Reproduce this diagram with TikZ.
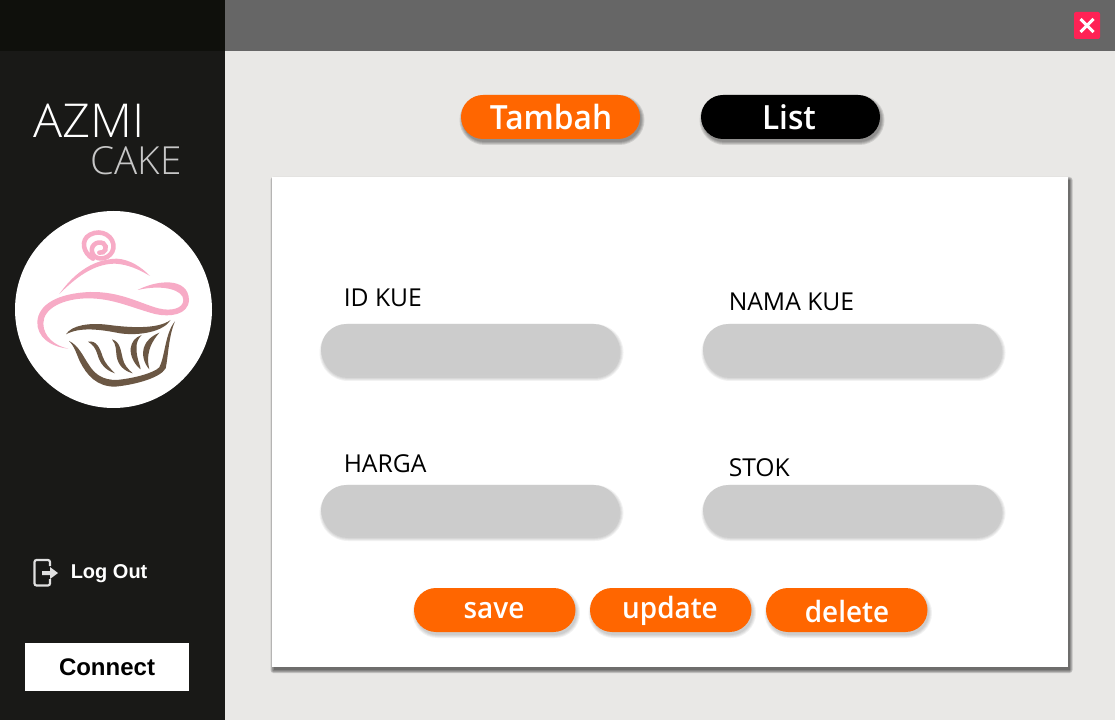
\documentclass[tikz,border=0pt]{standalone}
\usepackage{fontspec}
\usepackage{tikz}
\setmainfont{Open Sans}
\newfontfamily\thinfont{Open Sans Light}
\newfontfamily\thinwide{Open Sans Light}[FakeStretch=1.04]
\newfontfamily\semifont{Open Sans Semibold}[FakeStretch=0.95]
\newfontfamily\arialfont{Liberation Sans}

\definecolor{sidebar}{HTML}{191917}
\definecolor{sidetop}{HTML}{0F100C}
\definecolor{topbar}{HTML}{666666}
\definecolor{pagebg}{HTML}{E9E8E6}
\definecolor{orangebtn}{HTML}{FF6600}
\definecolor{fieldgray}{HTML}{CCCCCC}
\definecolor{closered}{HTML}{FF2255}
\definecolor{logopink}{HTML}{F7ABC6}
\definecolor{logobrown}{HTML}{6B5744}

% blurred shadow, then the box: {x0}{y0}{x1}{y1}{radius}{fill}{layer opacity}
\newcommand{\softbox}[7]{
    \foreach \d in {3,2,1,0}{
        \fill[black, opacity=#7, rounded corners=#5+\d*0.75pt]
            ({#1+1.5-\d},{#2+3-\d}) rectangle ({#3+1.5+\d},{#4+3+\d});
    }
    \fill[#6, rounded corners=#5] (#1,#2) rectangle (#3,#4);
}

\tikzset{
    fieldlabel/.style={anchor=base west, font=\fontsize{18.5}{18.5}\selectfont, text=black, inner sep=0pt},
    tablabel/.style={anchor=base, inner sep=0pt, text=white, font=\semifont\fontsize{25}{25}\selectfont},
    btnlabel/.style={anchor=base, inner sep=0pt, text=white, font=\semifont\fontsize{22}{22}\selectfont}
}

\begin{document}
\begin{tikzpicture}[x=0.75pt, y=-0.75pt]

    \useasboundingbox (0,0) rectangle (1115,720);

    % BACKGROUND
    \fill[pagebg] (0,0) rectangle (1115,720);
    \fill[topbar] (225,0) rectangle (1115,51);
    \fill[sidebar] (0,0) rectangle (225,720);
    \fill[sidetop] (0,0) rectangle (225,51);

    % CLOSE BUTTON
    \fill[closered, rounded corners=1.5pt] (1074,12) rectangle (1100,39);
    \draw[white, line width=2.3pt] (1080.5,19) -- (1093.5,32) (1093.5,19) -- (1080.5,32);

    % TITLE
    \node[anchor=base west, inner sep=0pt, text=white, font=\thinwide\fontsize{35}{35}\selectfont] (azmi) at (33,138) {AZMI};
    \node[anchor=base west, inner sep=0pt, text=white!78!black, font=\thinfont\fontsize{29}{29}\selectfont] (cake) at (90.5,175) {CAKE};

    % LOGO
    \fill[white] (113.5,309.5) circle (98.5);
    \begin{scope}[shift={(0,80)}, x=0.25pt, y=-0.25pt]
        % pink parts
        \draw[logopink, line width=3.4pt, line cap=round]
            (279,536) .. controls (250,520) and (240,480) .. (270,464)
            .. controls (305,445) and (345,470) .. (340,505)
            .. controls (335,535) and (295,545) .. (280,525)
            .. controls (265,500) and (290,480) .. (310,490)
            .. controls (325,500) and (315,522) .. (298,518);
        \fill[logopink]
            (178,642) .. controls (215,590) and (270,538) .. (350,536)
            .. controls (390,538) and (425,562) .. (450,588)
            .. controls (420,570) and (385,553) .. (345,551)
            .. controls (280,551) and (225,595) .. (178,642) -- cycle;
        \fill[logopink]
            (205,806) .. controls (150,800) and (110,770) .. (112,725)
            .. controls (115,675) and (170,640) .. (270,636)
            .. controls (360,634) and (420,670) .. (475,685)
            .. controls (515,695) and (550,685) .. (550,660)
            .. controls (550,630) and (490,612) .. (413,630)
            .. controls (470,600) and (565,590) .. (567,660)
            .. controls (565,705) and (510,712) .. (465,702)
            .. controls (400,685) and (340,655) .. (265,655)
            .. controls (190,655) and (130,685) .. (130,730)
            .. controls (130,770) and (165,798) .. (205,806) -- cycle;
        % brown parts
        \fill[logobrown]
            (198,763) .. controls (215,735) and (270,728) .. (320,734)
            .. controls (380,742) and (470,750) .. (512,720)
            .. controls (490,755) and (420,768) .. (360,760)
            .. controls (300,748) and (240,740) .. (198,763) -- cycle;
        \fill[logobrown]
            (207,783) .. controls (235,795) and (250,830) .. (265,852)
            .. controls (285,885) and (310,900) .. (350,900)
            .. controls (400,895) and (460,880) .. (478,862)
            .. controls (495,830) and (495,760) .. (525,724)
            .. controls (505,770) and (505,830) .. (497,865)
            .. controls (480,895) and (400,915) .. (345,920)
            .. controls (290,920) and (260,885) .. (240,845)
            .. controls (230,825) and (225,800) .. (207,783) -- cycle;
        \fill[logobrown]
            (264,785) .. controls (290,780) and (300,805) .. (308,830)
            .. controls (315,850) and (330,865) .. (345,880)
            .. controls (315,870) and (300,850) .. (293,825)
            .. controls (287,805) and (280,795) .. (264,785) -- cycle;
        \fill[logobrown]
            (336,778) .. controls (360,785) and (362,810) .. (368,835)
            .. controls (372,855) and (385,868) .. (398,880)
            .. controls (370,872) and (355,855) .. (350,830)
            .. controls (347,810) and (350,795) .. (336,778) -- cycle;
        \fill[logobrown]
            (425,765) .. controls (405,785) and (408,810) .. (412,830)
            .. controls (415,845) and (420,855) .. (422,868)
            .. controls (405,855) and (390,830) .. (392,805)
            .. controls (395,785) and (405,772) .. (425,765) -- cycle;
        \fill[logobrown]
            (478,758) .. controls (455,785) and (448,805) .. (445,825)
            .. controls (443,842) and (445,855) .. (448,868)
            .. controls (432,850) and (425,825) .. (432,802)
            .. controls (438,782) and (455,768) .. (478,758) -- cycle;
    \end{scope}

    % LOG OUT
    \draw[white!88!black, line width=1.6pt, rounded corners=1.5pt]
        (50,566) -- (50,560) -- (34.5,560) -- (34.5,585.5) -- (50,585.5) -- (50,579);
    \fill[white!88!black] (42,571) -- (50,571) -- (50,567) -- (58,573) -- (50,579) -- (50,575) -- (42,575) -- cycle;
    \node[anchor=base west, inner sep=0pt, text=white, font=\arialfont\bfseries\fontsize{15}{15}\selectfont] (logout) at (70.5,578) {Log Out};

    % CONNECT
    \node[fill=white, minimum width=123pt, minimum height=36pt, inner sep=0pt, text=black, font=\arialfont\bfseries\fontsize{18}{18}\selectfont] (connect) at (107,667) {Connect};

    % TABS
    \softbox{461}{95}{640}{139}{16.5pt}{orangebtn}{0.11}
    \softbox{701}{95}{880}{139}{16.5pt}{black}{0.11}
    \node[tablabel] (tambah) at (551,130) {Tambah};
    \node[tablabel] (list) at (789,130) {List};

    % CARD
    \softbox{272}{177}{1068}{667}{0pt}{white}{0.17}

    % INPUT FIELDS
    \foreach \x/\y/\h in {321/324/51, 703/324/51, 321/485/50, 703/485/50}{
        \softbox{\x}{\y}{\x+298}{\y+\h}{19pt}{fieldgray}{0.05}
    }
    \node[fieldlabel] (idkue) at (343.5,306.5) {ID KUE};
    \node[fieldlabel] (namakue) at (728.5,310.5) {NAMA KUE};
    \node[fieldlabel] (harga) at (343.5,472.5) {HARGA};
    \node[fieldlabel] (stok) at (728.5,476.5) {STOK};

    % ACTION BUTTONS
    \foreach \x in {414, 590, 766}{
        \softbox{\x}{588}{\x+161.5}{632}{16.5pt}{orangebtn}{0.05}
    }
    \node[btnlabel] (save) at (494,618) {save};
    \node[btnlabel] (update) at (670,618) {update};
    \node[btnlabel] (delete) at (847,622) {delete};

\end{tikzpicture}
\end{document}
